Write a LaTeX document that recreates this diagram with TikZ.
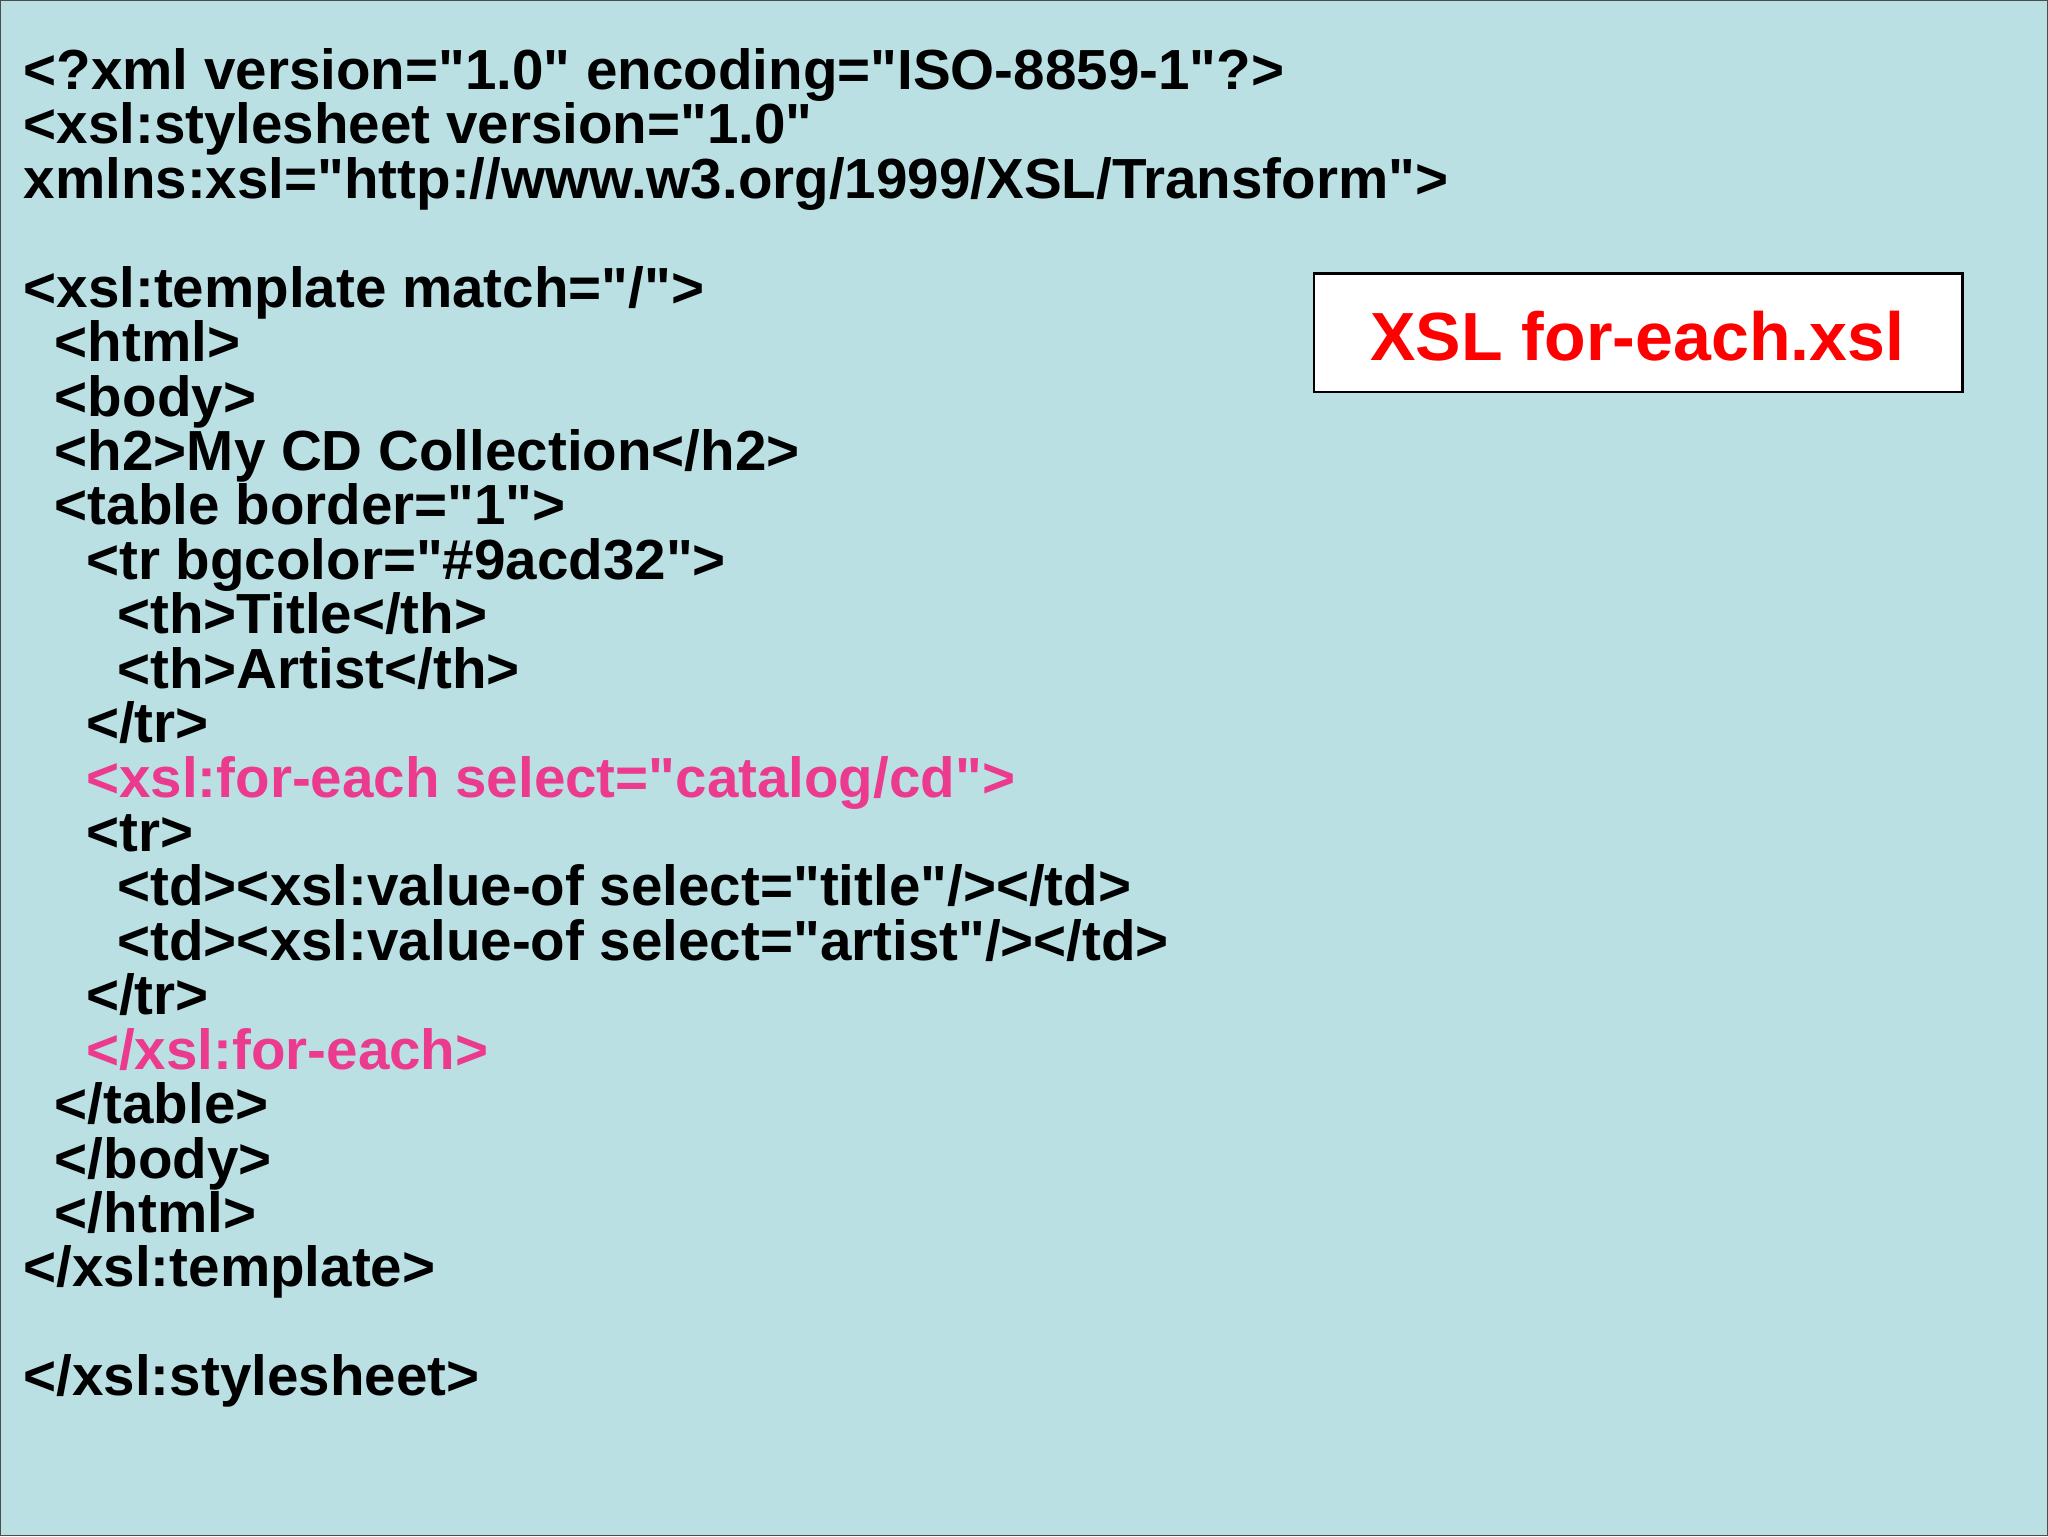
\documentclass[tikz,border=0pt]{standalone}
\usepackage{fontspec}
\setmainfont{Liberation Sans}[Ligatures=TeXOff]
\definecolor{bgc}{HTML}{BAE0E4}
\definecolor{pinkc}{HTML}{EC3A8E}
\begin{document}
\begin{tikzpicture}[x=0.013061cm,y=-0.013061cm,
  code/.style={anchor=base west,inner sep=0pt,font=\fontsize{16.1}{18}\selectfont\bfseries},
  hl/.style={code,text=pinkc}]
\fill[bgc,draw=black!70,line width=0.4pt] (0,0) rectangle (1568,1176);
\useasboundingbox (0,0) rectangle (1568,1176);
\def\L#1{68+41.7*#1}
\node[code] (l0) at (17,{\L0}) {<?xml version="1.0" encoding="ISO-8859-1"?>};
\node[code] (l1) at (17,{\L1}) {<xsl:stylesheet version="1.0"};
\node[code] (l2) at (17,{\L2}) {xmlns:xsl="http://www.w3.org/1999/XSL/Transform">};
\node[code] (l4) at (17,{\L4}) {<xsl:template match="/">};
\node[code] (l5) at (41,{\L5}) {<html>};
\node[code] (l6) at (41,{\L6}) {<body>};
\node[code] (l7) at (41,{\L7}) {<h2>My CD Collection</h2>};
\node[code] (l8) at (41,{\L8}) {<table border="1">};
\node[code] (l9) at (65,{\L9}) {<tr bgcolor="\#9acd32">};
\node[code] (l10) at (89,{\L{10}}) {<th>Title</th>};
\node[code] (l11) at (89,{\L{11}}) {<th>Artist</th>};
\node[code] (l12) at (65,{\L{12}}) {</tr>};
\node[hl] (l13) at (65,{\L{13}}) {<xsl:for-each select="catalog/cd">};
\node[code] (l14) at (65,{\L{14}}) {<tr>};
\node[code] (l15) at (89,{\L{15}}) {<td><xsl:value-of select="title"/></td>};
\node[code] (l16) at (89,{\L{16}}) {<td><xsl:value-of select="artist"/></td>};
\node[code] (l17) at (65,{\L{17}}) {</tr>};
\node[hl] (l18) at (65,{\L{18}}) {</xsl:for-each>};
\node[code] (l19) at (41,{\L{19}}) {</table>};
\node[code] (l20) at (41,{\L{20}}) {</body>};
\node[code] (l21) at (41,{\L{21}}) {</html>};
\node[code] (l22) at (17,{\L{22}}) {</xsl:template>};
\node[code] (l24) at (17,{\L{24}}) {</xsl:stylesheet>};
\draw[fill=white,draw=black,line width=0.6pt] (1006,209) rectangle (1503,300);
\node[text=red,font=\fontsize{19.4}{24}\selectfont\bfseries] (title) at (1254,257) {XSL for-each.xsl};
\end{tikzpicture}
\end{document}
